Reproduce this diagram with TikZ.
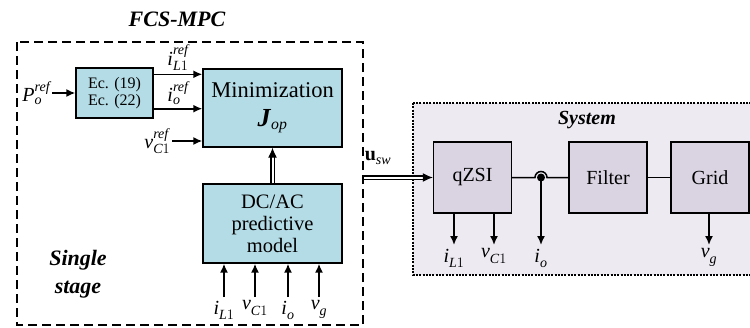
\documentclass[tikz,border=0pt]{standalone}
\usepackage{amsmath}
\usepackage{fontspec}
\setmainfont{Liberation Serif}
\usetikzlibrary{calc, positioning, arrows.meta}
\definecolor{ctrlBlue}{RGB}{180, 220, 230}
\definecolor{plantBox}{RGB}{217, 211, 226}
\definecolor{plantBg}{RGB}{237, 234, 242}
% signal name: letter, subscript, superscript
\newcommand{\sig}[3]{$\textit{#1}_{#2}^{\textit{#3}}$}

\begin{document}
\begin{tikzpicture}[x=1pt, y=-1pt,
  ctrl/.style={draw, line width=1.4pt, fill=ctrlBlue, inner sep=0pt, align=center},
  plant/.style={draw, line width=1.4pt, fill=plantBox, inner sep=0pt,
    minimum width=78pt, minimum height=71pt, font=\fontsize{20}{24}\selectfont},
  sigarrow/.style={-{Latex[length=9pt, width=8pt]}, line width=1.6pt},
  wire/.style={line width=1.5pt},
  dbl/.style={double, double distance=2pt, line width=1.1pt, -{Latex[length=10pt, width=9pt]}},
  lbl/.style={font=\fontsize{20}{24}\selectfont, inner sep=0pt},
  title/.style={font=\fontsize{22}{26}\selectfont\bfseries\itshape, inner sep=0pt, align=center}]
  \useasboundingbox (0,0) rectangle (750,327);

  % Controller frame
  \node[title, anchor=base] (fcs) at (177,26) {FCS-MPC};
  \draw[line width=1.3pt, dash pattern=on 9pt off 5pt] (17,42) rectangle (363,325);
  \node[title] (single) at (78,274) {Single\\[2pt]stage};

  % Plant frame
  \fill[plantBg] (413,103) rectangle (760,275);
  \draw[line width=1.2pt, dash pattern=on 2pt off 1.3pt] (413,103) rectangle (760,275);
  \node[font=\fontsize{20}{24}\selectfont\bfseries\itshape, inner sep=0pt] (sys) at (587,120) {System};

  % Controller blocks
  \node[ctrl, minimum width=77pt, minimum height=50pt, font=\fontsize{16}{17}\selectfont]
    (ec) at (114.5,93) {Ec. (19)\\Ec. (22)};
  \node[ctrl, minimum width=139pt, minimum height=78pt, font=\fontsize{22.5}{26}\selectfont]
    (minz) at (272.5,108) {Minimization\\[3pt]{\fontsize{26}{26}\selectfont\textbf{\textit{J}}}$_{\textit{op}}$};
  \node[ctrl, minimum width=139pt, minimum height=79pt, font=\fontsize{20.5}{22}\selectfont]
    (model) at (272.5,223.5) {DC/AC\\predictive\\model};

  % Plant blocks
  \node[plant] (qzsi) at (472.5,177.5) {qZSI};
  \node[plant] (filter) at (608,177.5) {Filter};
  \node[plant] (grid) at (710,177.5) {Grid};

  % References
  \coordinate (pin) at (52,93);
  \draw[sigarrow] (pin) -- (pin -| ec.west) node[at start, left=1pt, lbl] {\sig{P}{\textit{o}}{ref}};
  \coordinate (iLref) at ($(ec.north east)+(0,7)$);
  \draw[sigarrow] (iLref) -- (iLref -| minz.west)
    node[midway, above=3pt, lbl] {\sig{i}{\textit{L}1}{ref}};
  \coordinate (ioref) at ($(ec.south east)+(0,-10)$);
  \draw[sigarrow] (ioref) -- (ioref -| minz.west)
    node[midway, above=3pt, lbl] {\sig{i}{\textit{o}}{ref}};
  \coordinate (vCref) at (172,141);
  \draw[sigarrow] (vCref) -- (vCref -| minz.west)
    node[at start, left=1pt, lbl] {\sig{v}{\textit{C}1}{ref}};

  % Prediction into cost function
  \draw[dbl] (model.north) -- (minz.south);

  % Measured inputs of the model
  \foreach \x/\s in {224/{\sig{i}{\textit{L}1}{}}, 255/{\sig{v}{\textit{C}1}{}},
                     288/{\sig{i}{\textit{o}}{}}, 319/{\sig{v}{\textit{g}}{}}} {
    \coordinate (meas) at (\x,297);
    \draw[sigarrow] (meas) -- (meas |- model.south) node[at start, below=3pt, lbl] {\s};
  }

  % Switching state to the inverter
  \coordinate (usw) at (364,177.5);
  \draw[dbl] (usw) -- (qzsi.west);
  \node[lbl] (uswlbl) at (378,158) {\textbf{u}$_{\textit{sw}}$};

  % Power path with crossing tap
  \coordinate (tap) at (541,177.5);
  \draw[wire] (qzsi.east) -- ($(tap)+(-6,0)$) arc[start angle=180, end angle=360, radius=6] -- (filter.west);
  \draw[wire] (filter.east) -- (grid.west);
  \fill (tap) circle (4);

  % Measured plant signals
  \draw[sigarrow] (tap) -- (tap |- 0,245) node[below=3pt, lbl] {\sig{i}{\textit{o}}{}};
  \coordinate (iLout) at ($(qzsi.south)+(-18.5,0)$);
  \draw[sigarrow] (iLout) -- (iLout |- 0,245) node[below=3pt, lbl] {\sig{i}{\textit{L}1}{}};
  \coordinate (vCout) at ($(qzsi.south)+(21.5,0)$);
  \draw[sigarrow] (vCout) -- (vCout |- 0,245) node[below=3pt, lbl] {\sig{v}{\textit{C}1}{}};
  \coordinate (vgout) at ($(grid.south)+(-1,0)$);
  \draw[sigarrow] (vgout) -- (vgout |- 0,245) node[below=3pt, lbl] {\sig{v}{\textit{g}}{}};
\end{tikzpicture}
\end{document}
